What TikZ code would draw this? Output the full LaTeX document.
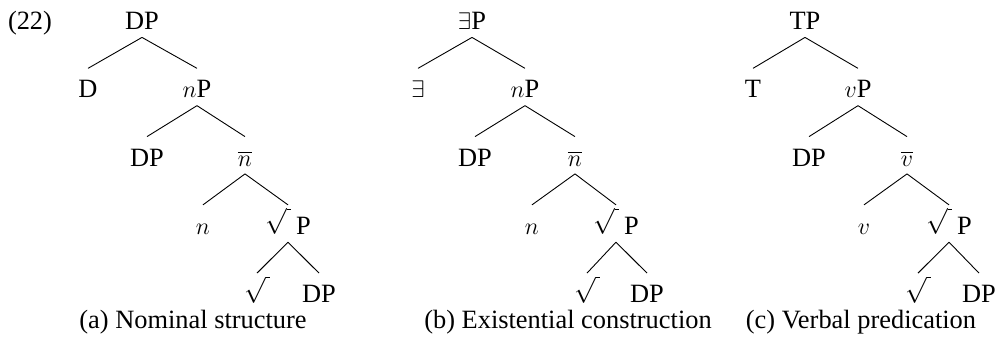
\documentclass[tikz,border=0pt]{standalone}
\usepackage{fontspec}
\setmainfont{Liberation Serif}
\newcommand{\rt}{\raisebox{1.3pt}{\scalebox{1.08}{$\sqrt{\vphantom{P}\hspace{2pt}}$}}}
\begin{document}
\begin{tikzpicture}[x=0.5pt,y=-0.5pt,
  font=\fontsize{13.2}{15.8}\selectfont,
  tn/.style={anchor=base, inner xsep=1pt, inner ysep=3.75pt, text height=10.75pt, text depth=0pt},
  captxt/.style={anchor=base, inner sep=0pt},
  br/.style={line width=0.45pt}]
\useasboundingbox (0,0) rectangle (996,339);
\node[captxt] (ex) at (30,29.5) {(22)};
% tree a
\node[tn] (a0) at (142,29.5) {DP};
\node[tn] (a1) at (88,97.75) {D};
\node[tn] (a2) at (197,97.75) {$n$P};
\node[tn] (a3) at (147,166) {DP};
\node[tn] (a4) at (245,166) {$\overline{n}$};
\node[tn] (a5) at (203,234.25) {$n$};
\node[tn] (a6) at (288,234.25) {\rt\hspace{2.5pt}P};
\node[tn] (a7) at (257,302.5) {\rt};
\node[tn] (a8) at (319,302.5) {DP};
\node[captxt] (ca) at (193,328) {(a) Nominal structure};
\draw[br] (a0.south) -- (a1.north);
\draw[br] (a0.south) -- (a2.north);
\draw[br] (a2.south) -- (a3.north);
\draw[br] (a2.south) -- (a4.north);
\draw[br] (a4.south) -- (a5.north);
\draw[br] (a4.south) -- (a6.north);
\draw[br] (a6.south) -- (a7.north);
\draw[br] (a6.south) -- (a8.north);
% tree b
\node[tn] (b0) at (472,29.5) {$\exists$P};
\node[tn] (b1) at (418,97.75) {$\exists$};
\node[tn] (b2) at (525,97.75) {$n$P};
\node[tn] (b3) at (475,166) {DP};
\node[tn] (b4) at (575,166) {$\overline{n}$};
\node[tn] (b5) at (532,234.25) {$n$};
\node[tn] (b6) at (616,234.25) {\rt\hspace{2.5pt}P};
\node[tn] (b7) at (587,302.5) {\rt};
\node[tn] (b8) at (647,302.5) {DP};
\node[captxt] (cb) at (568,328) {(b) Existential construction};
\draw[br] (b0.south) -- (b1.north);
\draw[br] (b0.south) -- (b2.north);
\draw[br] (b2.south) -- (b3.north);
\draw[br] (b2.south) -- (b4.north);
\draw[br] (b4.south) -- (b5.north);
\draw[br] (b4.south) -- (b6.north);
\draw[br] (b6.south) -- (b7.north);
\draw[br] (b6.south) -- (b8.north);
% tree c
\node[tn] (c0) at (805,29.5) {TP};
\node[tn] (c1) at (753,97.75) {T};
\node[tn] (c2) at (858,97.75) {$v$P};
\node[tn] (c3) at (809,166) {DP};
\node[tn] (c4) at (907,166) {$\overline{v}$};
\node[tn] (c5) at (864,234.25) {$v$};
\node[tn] (c6) at (949,234.25) {\rt\hspace{2.5pt}P};
\node[tn] (c7) at (918,302.5) {\rt};
\node[tn] (c8) at (979,302.5) {DP};
\node[captxt] (cc) at (861,328) {(c) Verbal predication};
\draw[br] (c0.south) -- (c1.north);
\draw[br] (c0.south) -- (c2.north);
\draw[br] (c2.south) -- (c3.north);
\draw[br] (c2.south) -- (c4.north);
\draw[br] (c4.south) -- (c5.north);
\draw[br] (c4.south) -- (c6.north);
\draw[br] (c6.south) -- (c7.north);
\draw[br] (c6.south) -- (c8.north);
\end{tikzpicture}
\end{document}
